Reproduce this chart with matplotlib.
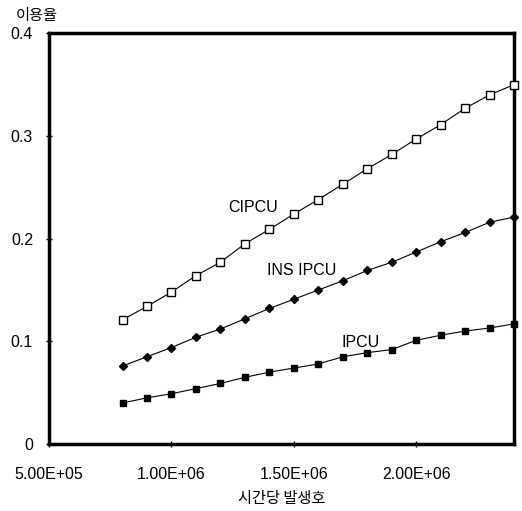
import numpy as np
import matplotlib
matplotlib.use('Agg')
from matplotlib import pyplot as plt

plt.rcParams['font.family'] = ['Noto Sans CJK KR', 'DejaVu Sans']

# 시간당 발생호 (x)
calls = [8.0e5, 9.0e5, 1.0e6, 1.1e6, 1.2e6, 1.3e6, 1.4e6, 1.5e6, 1.6e6,
         1.7e6, 1.8e6, 1.9e6, 2.0e6, 2.1e6, 2.2e6, 2.3e6, 2.4e6]

cipcu = [0.121, 0.134, 0.148, 0.164, 0.177, 0.195, 0.209, 0.224, 0.238,
         0.253, 0.268, 0.282, 0.297, 0.311, 0.327, 0.340, 0.350]
ins_ipcu = [0.076, 0.085, 0.094, 0.104, 0.112, 0.122, 0.132, 0.141, 0.150,
            0.159, 0.169, 0.177, 0.187, 0.197, 0.206, 0.216, 0.221]
ipcu = [0.040, 0.045, 0.049, 0.054, 0.059, 0.065, 0.070, 0.074, 0.078,
        0.085, 0.089, 0.092, 0.101, 0.106, 0.110, 0.113, 0.117]

xticks = [5.0e5, 1.0e6, 1.5e6, 2.0e6]
xticklabels = ['5.00E+05', '1.00E+06', '1.50E+06', '2.00E+06']
yticks = [0, 0.1, 0.2, 0.3, 0.4]
yticklabels = ['0', '0.1', '0.2', '0.3', '0.4']

latin = ['Liberation Sans', 'DejaVu Sans']

fig = plt.figure(figsize=(5.22, 5.11), dpi=100)
ax = fig.add_axes([0.094, 0.131, 0.891, 0.804])

ax.plot(calls, cipcu, color='black', lw=0.8, marker='s', ms=5.8,
        mfc='white', mec='black', mew=1.0, clip_on=False, zorder=3)
ax.plot(calls, ins_ipcu, color='black', lw=0.8, marker='D', ms=4,
        mfc='black', mec='black', clip_on=False, zorder=3)
ax.plot(calls, ipcu, color='black', lw=0.8, marker='s', ms=5,
        mfc='black', mec='black', clip_on=False, zorder=3)

ax.text(1.334e6, 0.230, 'CIPCU', fontsize=11.5, ha='center', va='center', family=latin)
ax.text(1.53e6, 0.169, 'INS IPCU', fontsize=11.5, ha='center', va='center', family=latin)
ax.text(1.771e6, 0.0985, 'IPCU', fontsize=11.5, ha='center', va='center', family=latin)

ax.set_xlim(5.0e5, 2.4e6)
ax.set_ylim(0, 0.4)
ax.set_xticks(xticks)
ax.set_xticklabels(xticklabels, family=latin)
ax.set_yticks(yticks)
ax.set_yticklabels(yticklabels, family=latin)
ax.tick_params(direction='inout', length=5, width=1, labelsize=11.5)
ax.tick_params(axis='x', pad=14)
ax.tick_params(axis='y', pad=9)

for s in ax.spines.values():
    s.set_linewidth(2.5)

ax.set_xlabel('시간당 발생호', fontsize=11, labelpad=6)
fig.text(0.03, 0.970, '이용율', fontsize=11, ha='left', va='center')

fig.savefig('out.png', dpi=100)
